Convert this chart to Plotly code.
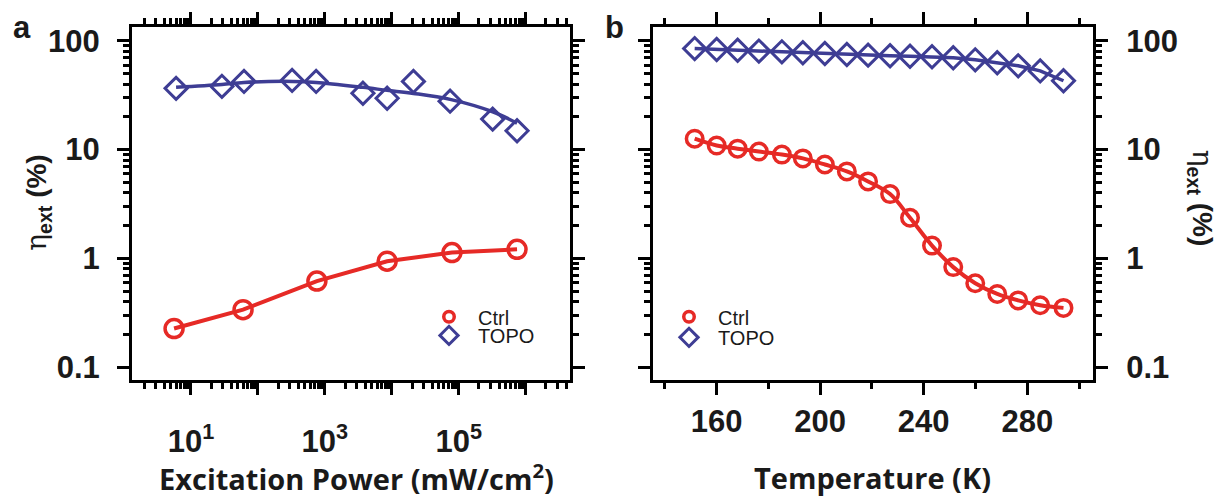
import plotly.graph_objects as go

# ---------------- data ----------------
# Panel a: external efficiency vs excitation power
power_topo = [6.0, 29, 62, 324, 740, 3700, 8500, 21000, 74000, 3.2e5, 7.4e5]
eta_topo_power = [36.6, 38.2, 42.4, 43.3, 42.4, 33.0, 29.7, 42.4, 27.9, 19.1, 14.9]
eta_topo_power_fit = [37.5, 39.8, 41.5, 42.4, 41.5, 37.4, 35.1, 32.9, 29.0, 22.3, 17.5]
power_ctrl = [5.6, 60, 760, 8500, 79000, 7.4e5]
eta_ctrl_power = [0.226, 0.337, 0.618, 0.94, 1.13, 1.21]

# Panel b: external efficiency vs temperature
temps = [151.5, 160.0, 168.1, 176.3, 185.2, 193.3, 201.8, 210.3, 218.5,
         227.0, 234.7, 243.2, 251.4, 259.9, 268.4, 276.5, 285.0, 294.0]
eta_topo_T = [85, 83.4, 82, 80.6, 79.4, 77.8, 76.6, 75, 74, 73, 72.3,
              71.5, 70, 67, 63, 59, 53, 43]
eta_ctrl_T = [12.6, 10.9, 10.2, 9.6, 9.0, 8.3, 7.3, 6.3, 5.1, 3.9, 2.36,
              1.31, 0.83, 0.59, 0.47, 0.41, 0.37, 0.35]

# ticks
y_major = [0.1, 1, 10, 100]
y_major_text = ["0.1", "1", "10", "100"]
y_minor = [m * 10 ** k for k in (-1, 0, 1) for m in range(2, 10)]
x_power_major = [10, 100, 1000, 10000, 100000, 1000000]
x_power_text = ["10<sup>1</sup>", "", "10<sup>3</sup>", "", "10<sup>5</sup>", ""]
x_power_minor = [m * 10 ** k for k in range(0, 7) for m in range(2, 10)
                 if 1.3 < m * 10 ** k < 4.5e6]
t_major = [160, 200, 240, 280]
t_major_text = ["160", "200", "240", "280"]
t_minor = [140, 180, 220, 260, 300]

RED = "#E62A26"
BLUE = "#3E3D94"
INK = "#1a1a1a"

fig = go.Figure()

# ---- panel a ----
fig.add_trace(go.Scatter(x=power_topo, y=eta_topo_power_fit, mode="lines",
                         line=dict(color=BLUE, width=3.5, shape="spline"),
                         showlegend=False, xaxis="x", yaxis="y"))
fig.add_trace(go.Scatter(x=power_topo, y=eta_topo_power, mode="markers",
                         marker=dict(symbol="diamond-open", size=17, color=BLUE,
                                     line=dict(width=3, color=BLUE)),
                         showlegend=False, xaxis="x", yaxis="y"))
fig.add_trace(go.Scatter(x=power_ctrl, y=eta_ctrl_power, mode="lines+markers",
                         line=dict(color=RED, width=4),
                         marker=dict(symbol="circle-open", size=18, color=RED,
                                     line=dict(width=3.5, color=RED)),
                         showlegend=False, xaxis="x", yaxis="y"))

# ---- panel b ----
fig.add_trace(go.Scatter(x=temps, y=eta_topo_T, mode="lines+markers",
                         line=dict(color=BLUE, width=3.5),
                         marker=dict(symbol="diamond-open", size=17, color=BLUE,
                                     line=dict(width=3, color=BLUE)),
                         showlegend=False, xaxis="x2", yaxis="y2"))
fig.add_trace(go.Scatter(x=temps, y=eta_ctrl_T, mode="lines+markers",
                         line=dict(color=RED, width=4, shape="spline"),
                         marker=dict(symbol="circle-open", size=16.5, color=RED,
                                     line=dict(width=3.5, color=RED)),
                         showlegend=False, xaxis="x2", yaxis="y2"))

# legend entries (one legend per entry for exact placement)
ctrl_marker = dict(symbol="circle-open", size=10.5, color=RED, line=dict(width=3.5, color=RED))
topo_marker = dict(symbol="diamond-open", size=14, color=BLUE, line=dict(width=3, color=BLUE))
for lg, name, mk, ax, ay in [("legend", "Ctrl", ctrl_marker, "x", "y"),
                             ("legend2", "TOPO", topo_marker, "x", "y"),
                             ("legend3", "Ctrl", ctrl_marker, "x2", "y2"),
                             ("legend4", "TOPO", topo_marker, "x2", "y2")]:
    fig.add_trace(go.Scatter(x=[None], y=[None], mode="markers", name=name,
                             marker=mk, legend=lg, xaxis=ax, yaxis=ay))

tickfont = dict(family="Liberation Sans", size=31, color=INK, weight="bold")
minor = dict(ticks="outside", ticklen=6, tickwidth=2.5, tickcolor="black", showgrid=False)
common = dict(showline=True, linecolor="black", linewidth=3, mirror="allticks",
              ticks="outside", ticklen=12, tickwidth=3, tickcolor="black",
              showgrid=False, zeroline=False, tickfont=tickfont)

YDOM = [1 - 383 / 498, 1 - 24.5 / 498]
leg_font = dict(family="Liberation Sans", size=20, color=INK)


def leg(xpx, ypx):
    return dict(x=xpx / 1220, y=1 - ypx / 498, xanchor="left", yanchor="top",
                bgcolor="rgba(0,0,0,0)", font=leg_font, itemwidth=48)


fig.update_layout(
    width=1220, height=498,
    margin=dict(l=0, r=0, t=0, b=0),
    paper_bgcolor="white", plot_bgcolor="white",
    xaxis=dict(type="log", range=[0.12, 6.66], domain=[132 / 1220, 570 / 1220],
               anchor="y", tickmode="array", tickvals=x_power_major,
               ticktext=x_power_text, ticklabelstandoff=20,
               minor=dict(minor, tickvals=x_power_minor), **common),
    yaxis=dict(type="log", range=[-1.118, 2.127], domain=YDOM, anchor="x",
               tickmode="array", tickvals=y_major, ticktext=y_major_text,
               ticklabelstandoff=11,
               minor=dict(minor, tickvals=y_minor), **common),
    xaxis2=dict(range=[135.4, 305.4], domain=[653 / 1220, 1093 / 1220],
                anchor="y2", tickmode="array", tickvals=t_major,
                ticktext=t_major_text, ticklabelstandoff=0,
                minor=dict(minor, tickvals=t_minor), **common),
    yaxis2=dict(type="log", range=[-1.118, 2.127], domain=YDOM, anchor="x2",
                side="right", tickmode="array", tickvals=y_major,
                ticktext=y_major_text, ticklabelstandoff=12,
                minor=dict(minor, tickvals=y_minor), **common),
    legend=leg(420, 299),
    legend2=leg(420, 318),
    legend3=leg(660, 299),
    legend4=leg(660, 320),
)

ytitle = ("<span style='font-family:DejaVu Serif;font-weight:normal'>η</span>"
          "<sub>ext</sub> (%)")
title_font = dict(family="Liberation Sans", size=28, color=INK, weight="bold")
xt_font = dict(family="Open Sans", size=29, color=INK, weight="bold")
letter_font = dict(family="Liberation Sans", size=31, color=INK, weight="bold")

fig.add_annotation(text=ytitle, x=38 / 1220, y=1 - 203 / 498, xref="paper", yref="paper",
                   textangle=-90, showarrow=False, font=title_font,
                   xanchor="center", yanchor="middle")
fig.add_annotation(text=ytitle, x=1201 / 1220, y=1 - 198 / 498, xref="paper", yref="paper",
                   textangle=90, showarrow=False, font=title_font,
                   xanchor="center", yanchor="middle")
fig.add_annotation(text="Excitation Power (mW/cm<sup>2</sup>)", x=356 / 1220, y=1 - 482 / 498,
                   xref="paper", yref="paper", showarrow=False, font=xt_font,
                   xanchor="center", yanchor="middle")
fig.add_annotation(text="Temperature (K)", x=872 / 1220, y=1 - 482 / 498,
                   xref="paper", yref="paper", showarrow=False, font=xt_font,
                   xanchor="center", yanchor="middle")
fig.add_annotation(text="a", x=11 / 1220, y=1 - 25 / 498, xref="paper", yref="paper",
                   showarrow=False, font=letter_font, xanchor="left", yanchor="middle")
fig.add_annotation(text="b", x=603 / 1220, y=1 - 25 / 498, xref="paper", yref="paper",
                   showarrow=False, font=letter_font, xanchor="left", yanchor="middle")

fig.write_html("out.html")
